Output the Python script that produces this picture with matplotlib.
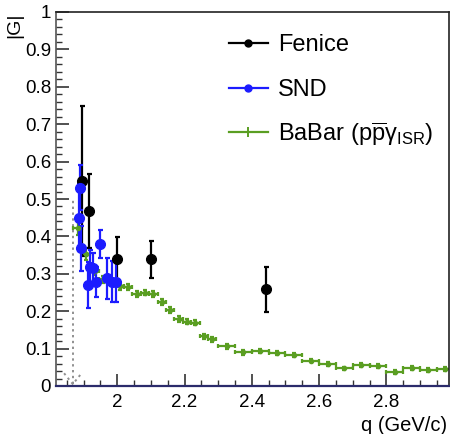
import matplotlib
matplotlib.use("Agg")
import matplotlib.pyplot as plt
from matplotlib.lines import Line2D
from matplotlib.ticker import MultipleLocator, FixedLocator

plt.rcParams['font.family'] = ['Liberation Sans', 'DejaVu Sans']
plt.rcParams['mathtext.fontset'] = 'custom'
plt.rcParams['mathtext.rm'] = 'Liberation Sans'
plt.rcParams['mathtext.it'] = 'Liberation Sans:italic'
plt.rcParams['mathtext.bf'] = 'Liberation Sans:bold'

# ---- data ----
fenice_q = [1.895, 1.917, 2.000, 2.100, 2.443]
fenice_g = [0.548, 0.468, 0.339, 0.339, 0.259]
fenice_e = [0.200, 0.100, 0.060, 0.050, 0.060]

snd_q = [1.885, 1.890, 1.893, 1.912, 1.920, 1.927, 1.938, 1.948, 1.970, 1.985, 1.997]
snd_g = [0.450, 0.530, 0.368, 0.270, 0.319, 0.315, 0.279, 0.379, 0.288, 0.279, 0.279]
snd_e = [0.090, 0.060, 0.060, 0.062, 0.045, 0.040, 0.040, 0.038, 0.055, 0.055, 0.055]

babar_q = [1.8825, 1.9075, 1.9325, 1.9575, 1.9825, 2.0075, 2.0325, 2.0575, 2.0825,
           2.1075, 2.1325, 2.1575, 2.1825, 2.2075, 2.2325, 2.2575, 2.2825,
           2.325, 2.375, 2.425, 2.475, 2.525, 2.575, 2.625, 2.675, 2.725, 2.775,
           2.825, 2.875, 2.925, 2.975]
babar_g = [0.423, 0.353, 0.308, 0.285, 0.279, 0.267, 0.265, 0.246, 0.250,
           0.246, 0.225, 0.204, 0.180, 0.172, 0.169, 0.133, 0.125,
           0.106, 0.090, 0.094, 0.089, 0.083, 0.068, 0.058, 0.047, 0.056, 0.053,
           0.038, 0.049, 0.043, 0.045]
babar_xe = [0.0125] * 17 + [0.025] * 14
babar_ye = [0.02, 0.015, 0.012, 0.010, 0.010, 0.009, 0.009, 0.008, 0.008,
            0.008, 0.008, 0.008, 0.008, 0.007, 0.007, 0.007, 0.007,
            0.006, 0.006, 0.006, 0.005, 0.005, 0.005, 0.005, 0.005, 0.005, 0.005,
            0.005, 0.005, 0.005, 0.005]

threshold_q = 1.868
threshold_top = 0.50

x_major = [2.0, 2.2, 2.4, 2.6, 2.8]
x_labels = ['2', '2.2', '2.4', '2.6', '2.8']
y_major = [0, 0.1, 0.2, 0.3, 0.4, 0.5, 0.6, 0.7, 0.8, 0.9, 1.0]
y_labels = ['0', '0.1', '0.2', '0.3', '0.4', '0.5', '0.6', '0.7', '0.8', '0.9', '1']

legend_labels = ['Fenice', 'SND', r'BaBar (p$\overline{\mathrm{p}}\mathrm{\gamma}_{\mathrm{ISR}}$)']

# ---- figure ----
W, H = 450, 434
fig = plt.figure(figsize=(W / 100, H / 100), dpi=100)
ax = fig.add_axes([56 / W, 1 - 386 / H, (449 - 56) / W, (386 - 12) / H])
ax.set_xlim(1.818, 2.986)
ax.set_ylim(0, 1.0)

green = '#5a9e22'
blue = '#1c1cff'

# threshold dotted arrow
ax.plot([threshold_q, threshold_q], [0.005, threshold_top], ls=(0, (1.2, 1.8)), color='#909090', lw=1.4)
ax.plot([threshold_q - 0.026, threshold_q, threshold_q + 0.026], [0.034, 0.005, 0.034],
        ls=(0, (1.2, 1.8)), color='#909090', lw=1.4)

ax.errorbar(babar_q, babar_g, xerr=babar_xe, yerr=babar_ye, fmt='o', ms=3,
            color=green, ecolor=green, elinewidth=1.6, capsize=1.6, capthick=1.6)
ax.errorbar(fenice_q, fenice_g, yerr=fenice_e, fmt='o', ms=7, color='black',
            elinewidth=1.6, capsize=1.8, capthick=1.6)
ax.errorbar(snd_q, snd_g, yerr=snd_e, fmt='o', ms=7, color=blue,
            elinewidth=1.6, capsize=1.8, capthick=1.6)

# axes styling
ax.xaxis.set_major_locator(FixedLocator(x_major))
ax.set_xticklabels(x_labels)
ax.xaxis.set_minor_locator(MultipleLocator(0.05))
ax.yaxis.set_major_locator(FixedLocator(y_major))
ax.set_yticklabels(y_labels)
ax.yaxis.set_minor_locator(MultipleLocator(0.02))
ax.tick_params(which='major', direction='in', length=9, width=1.2, labelsize=13.5,
               color='#333333')
ax.tick_params(which='minor', direction='in', length=4.5, width=1.0, color='#333333')
ax.tick_params(axis='x', which='major', pad=6)
ax.tick_params(axis='y', which='major', pad=3.5)
for s in ax.spines.values():
    s.set_linewidth(1.2)
    s.set_color('#222222')
ax.spines['bottom'].set_color('#2b2b6b')
ax.spines['bottom'].set_linewidth(1.6)
ax.spines['left'].set_color('#555555')

fig.text(15 / W, 1 - 13 / H, '|G|', rotation=90, ha='center', va='top', fontsize=14)
fig.text(447 / W, 1 - 431 / H, 'q (GeV/c)', ha='right', va='baseline', fontsize=14.5)

# manual legend (figure pixel positions)
leg_styles = [dict(color='black', marker='o', ms=5),
              dict(color=blue, marker='o', ms=5),
              dict(color=green, marker='|', ms=7, mew=1.4)]
leg_line_y = [43, 88, 132]
leg_base_y = [51, 96, 141]
for lab, st, ly, by in zip(legend_labels, leg_styles, leg_line_y, leg_base_y):
    fig.add_artist(Line2D([229 / W, 268 / W], [1 - ly / H, 1 - ly / H], lw=1.6,
                          transform=fig.transFigure, markevery=[], **{k: v for k, v in st.items()}))
    fig.add_artist(Line2D([248.5 / W], [1 - ly / H], lw=0, transform=fig.transFigure, **st))
    fig.text(278 / W, 1 - by / H, lab, ha='left', va='baseline', fontsize=17)

fig.savefig('out.png', dpi=100)
